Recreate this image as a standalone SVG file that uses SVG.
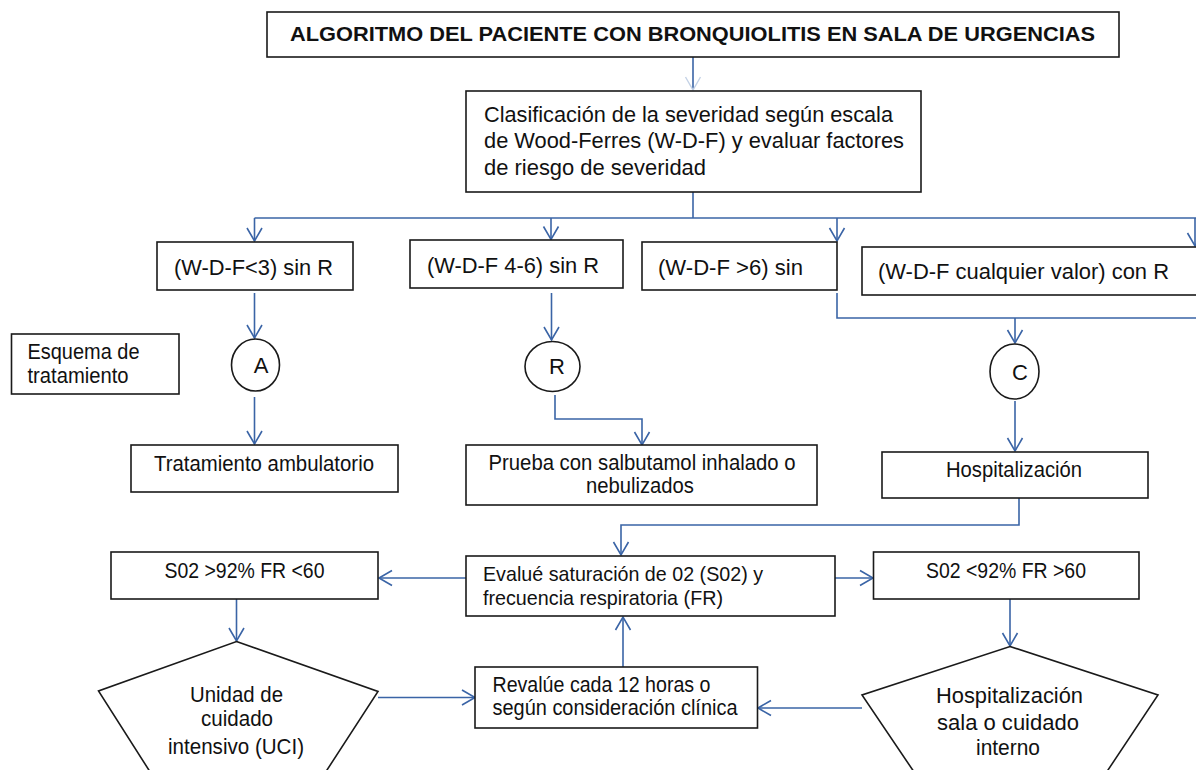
<svg xmlns="http://www.w3.org/2000/svg" width="1196" height="770" viewBox="0 0 1196 770">
<defs>
<style>
.box{fill:#fff;stroke:#1a1a1a;stroke-width:1.6}
.t{font-family:"Liberation Sans",Arial,sans-serif;font-size:22px;fill:#111}
.tb{font-size:22.5px}
.ts{font-size:21px}
.m{text-anchor:middle}
.title{font-family:"Liberation Sans",Arial,sans-serif;font-size:20.5px;font-weight:bold;fill:#111}
.c{fill:none;stroke:#3a64a6;stroke-width:1.6}
.ca{fill:none;stroke:#3a64a6;stroke-width:1.6;marker-end:url(#ah)}
</style>
<marker id="ah" viewBox="0 0 16 18" refX="14" refY="9" markerWidth="16" markerHeight="18" markerUnits="userSpaceOnUse" orient="auto">
<path d="M1,1.5 L14,9 L1,16.5" fill="none" stroke="#3a64a6" stroke-width="1.6"/>
</marker>
<marker id="ahl" viewBox="0 0 16 18" refX="14" refY="9" markerWidth="16" markerHeight="18" markerUnits="userSpaceOnUse" orient="auto">
<path d="M1,1.5 L14,9 L1,16.5" fill="none" stroke="#c4d2e6" stroke-width="1.4"/>
</marker>
</defs>
<rect width="1196" height="770" fill="#fff"/>

<g id="connectors">
<path d="M693,57 V90" fill="none" stroke="#3a64a6" stroke-width="1.6" marker-end="url(#ahl)"/>
<path class="c" d="M693,192 V218"/>
<path class="c" d="M254.5,218 H1200"/>
<path class="ca" d="M254.5,218 V241"/>
<path class="ca" d="M551,218 V239.5"/>
<path class="ca" d="M837,218 V241"/>
<path class="ca" d="M1195,218 V246"/>
<path class="ca" d="M254.5,293 V338"/>
<path class="ca" d="M551.5,293 V340"/>
<path class="c" d="M837,293 V318 H1200"/>
<path class="ca" d="M1015,318 V343"/>
<path class="ca" d="M254.5,397 V444"/>
<path class="ca" d="M555,395 V419 H642 V445"/>
<path class="ca" d="M1015,401 V451"/>
<path class="ca" d="M1019,498 V525 H621 V555"/>
<path class="ca" d="M466,578 H379"/>
<path class="ca" d="M767,578 H873"/>
<path class="ca" d="M236.5,599 V641"/>
<path class="ca" d="M1010,599 V646"/>
<path class="ca" d="M378,697.5 H475"/>
<path class="ca" d="M862,708 H758"/>
<path class="ca" d="M623,667 V617"/>
</g>

<g id="title">
<rect class="box" x="267" y="12" width="852" height="45"/>
<text class="title" x="290" y="41" textLength="805" lengthAdjust="spacingAndGlyphs">ALGORITMO DEL PACIENTE CON BRONQUIOLITIS  EN SALA DE URGENCIAS</text>
</g>

<g id="clasificacion">
<rect class="box" x="466" y="91" width="455" height="101"/>
<text class="t tb" x="484" y="121.5" textLength="409" lengthAdjust="spacingAndGlyphs">Clasificación de la severidad según escala</text>
<text class="t tb" x="484" y="148" textLength="420" lengthAdjust="spacingAndGlyphs">de Wood-Ferres (W-D-F) y evaluar  factores</text>
<text class="t tb" x="484" y="175" textLength="222" lengthAdjust="spacingAndGlyphs">de riesgo de severidad</text>
</g>

<g id="wdf-menor3">
<rect class="box" x="157" y="242" width="196" height="48"/>
<text class="t tb" x="174" y="274.5" textLength="159" lengthAdjust="spacingAndGlyphs">(W-D-F&lt;3)  sin R</text>
</g>

<g id="wdf-4-6">
<rect class="box" x="410" y="240" width="213" height="48"/>
<text class="t tb" x="427" y="272.5" textLength="172" lengthAdjust="spacingAndGlyphs">(W-D-F 4-6) sin R</text>
</g>

<g id="wdf-mayor6">
<rect class="box" x="642" y="242" width="195" height="48"/>
<text class="t tb" x="658" y="274.5" textLength="145" lengthAdjust="spacingAndGlyphs">(W-D-F &gt;6) sin</text>
</g>

<g id="wdf-cualquier">
<rect class="box" x="862" y="247" width="345" height="48"/>
<text class="t tb" x="878" y="278.5" textLength="291" lengthAdjust="spacingAndGlyphs">(W-D-F  cualquier valor) con R</text>
</g>

<g id="esquema">
<rect class="box" x="11.5" y="334" width="167.5" height="60"/>
<text class="t" x="27.5" y="359" textLength="112" lengthAdjust="spacingAndGlyphs">Esquema de</text>
<text class="t" x="27.5" y="383" textLength="101" lengthAdjust="spacingAndGlyphs">tratamiento</text>
</g>

<g id="circulo-a">
<ellipse class="box" cx="255.5" cy="365" rx="24" ry="26"/>
<text class="t m" x="261" y="373">A</text>
</g>

<g id="circulo-r">
<ellipse class="box" cx="552.5" cy="366.5" rx="27.5" ry="25"/>
<text class="t m" x="557" y="374">R</text>
</g>

<g id="circulo-c">
<ellipse class="box" cx="1014.5" cy="371.5" rx="24.5" ry="27.5"/>
<text class="t m" x="1020" y="380">C</text>
</g>

<g id="tratamiento-ambulatorio">
<rect class="box" x="131" y="445" width="267" height="47"/>
<text class="t" x="154" y="470.5" textLength="220" lengthAdjust="spacingAndGlyphs">Tratamiento ambulatorio</text>
</g>

<g id="prueba-salbutamol">
<rect class="box" x="466" y="445" width="351" height="60"/>
<text class="t m" x="642" y="470" textLength="307" lengthAdjust="spacingAndGlyphs">Prueba con salbutamol inhalado o</text>
<text class="t m" x="640" y="493" textLength="108" lengthAdjust="spacingAndGlyphs">nebulizados</text>
</g>

<g id="hospitalizacion">
<rect class="box" x="882" y="452" width="266" height="46"/>
<text class="t m" x="1014" y="477" textLength="136" lengthAdjust="spacingAndGlyphs">Hospitalización</text>
</g>

<g id="evalue">
<rect class="box" x="466" y="556" width="369" height="60"/>
<text class="t ts" x="483" y="581" textLength="280" lengthAdjust="spacingAndGlyphs">Evalué saturación de 02 (S02) y</text>
<text class="t ts" x="483" y="605" textLength="240" lengthAdjust="spacingAndGlyphs">frecuencia respiratoria (FR)</text>
</g>

<g id="s02-mayor92">
<rect class="box" x="111" y="552" width="267" height="47"/>
<text class="t m" x="244.5" y="578" textLength="160" lengthAdjust="spacingAndGlyphs">S02 &gt;92% FR &lt;60</text>
</g>

<g id="s02-menor92">
<rect class="box" x="873.5" y="552" width="265.5" height="47"/>
<text class="t m" x="1006" y="578" textLength="160" lengthAdjust="spacingAndGlyphs">S02 &lt;92% FR &gt;60</text>
</g>

<g id="uci">
<path class="box" d="M236.5,641.5 L378,691.5 L307.5,800 L168,800 L98.5,691 Z"/>
<text class="t m" x="236.5" y="702" textLength="93" lengthAdjust="spacingAndGlyphs">Unidad de</text>
<text class="t m" x="237" y="726" textLength="72" lengthAdjust="spacingAndGlyphs">cuidado</text>
<text class="t m" x="236" y="754" textLength="136" lengthAdjust="spacingAndGlyphs">intensivo (UCI)</text>
</g>

<g id="revalue">
<rect class="box" x="475" y="667" width="282.5" height="61"/>
<text class="t" x="492.5" y="692" textLength="218" lengthAdjust="spacingAndGlyphs">Revalúe cada 12 horas o</text>
<text class="t" x="492.5" y="715" textLength="245" lengthAdjust="spacingAndGlyphs">según consideración clínica</text>
</g>

<g id="hospitalizacion-sala">
<path class="box" d="M1010,646.5 L1158,695 L1088,800 L933,800 L862,695 Z"/>
<text class="t m" x="1009.5" y="703" textLength="147" lengthAdjust="spacingAndGlyphs">Hospitalización</text>
<text class="t m" x="1008" y="730" textLength="142" lengthAdjust="spacingAndGlyphs">sala o cuidado</text>
<text class="t m" x="1008" y="755" textLength="64" lengthAdjust="spacingAndGlyphs">interno</text>
</g>
</svg>
